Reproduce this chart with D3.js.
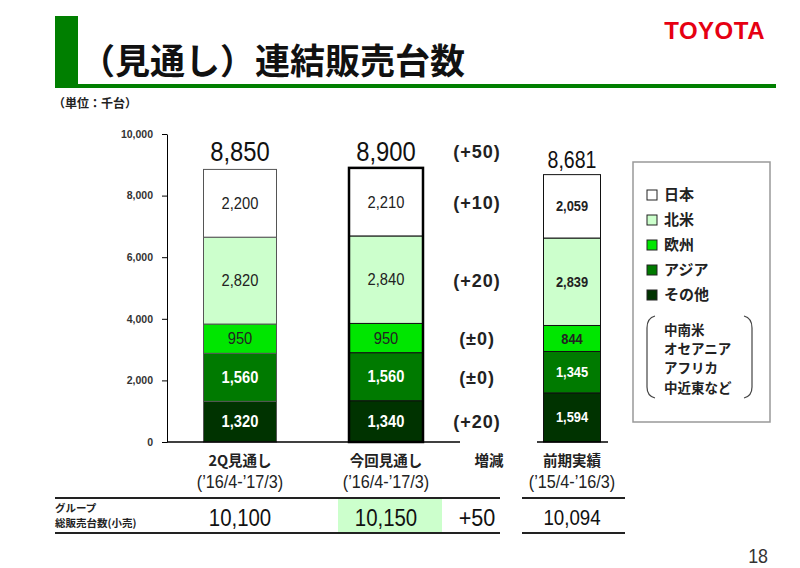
<!DOCTYPE html>
<html>
<head>
<meta charset="utf-8">
<script src="https://cdn.jsdelivr.net/npm/d3@7"></script>
<style>
  body { margin: 0; background: #fff; }
  svg { display: block; }
</style>
</head>
<body>
<div id="chart"></div>
<script>
// data
var categories = ["2Q見通し", "今回見通し", "前期実績"];
var periods = ["(’16/4-’17/3)", "(’16/4-’17/3)", "(’15/4-’16/3)"];
var regions = ["その他", "アジア", "欧州", "北米", "日本"];
var other = [1320, 1340, 1594];
var asia = [1560, 1560, 1345];
var europe = [950, 950, 844];
var northAmerica = [2820, 2840, 2839];
var japan = [2200, 2210, 2059];
var totals = [8850, 8900, 8681];
var changes = ["(+20)", "(±0)", "(±0)", "(+20)", "(+10)"];
var totalChange = "(+50)";
var groupSales = [10100, 10150, 10094];
var groupChange = "+50";
var yTicks = [0, 2000, 4000, 6000, 8000, 10000];
var otherNote = ["中南米", "オセアニア", "アフリカ", "中近東など"];

var W = 800, H = 568;
var jp = "'Noto Sans CJK JP', sans-serif";
var num = "'Liberation Sans', Arial, sans-serif";

var svg = d3.select("#chart").append("svg")
    .attr("width", W)
    .attr("height", H);

// squeezes a text horizontally, like the narrow font of the slide
function narrowAt(x, y, sx) {
  return "translate(" + x + "," + y + ") scale(" + sx + ",1)";
}

// title block
svg.append("rect").attr("x", 55).attr("y", 16).attr("width", 23).attr("height", 68).attr("fill", "#007f00");
svg.append("rect").attr("x", 55).attr("y", 84).attr("width", 721).attr("height", 4).attr("fill", "#007f00");
svg.append("text")
    .attr("x", 80).attr("y", 74)
    .style("font-family", jp).style("font-size", "35px").style("font-weight", "bold")
    .attr("fill", "#111")
    .text("（見通し）連結販売台数");
svg.append("text")
    .attr("x", 765).attr("y", 39).attr("text-anchor", "end")
    .style("font-family", num).style("font-size", "24px").style("font-weight", "bold")
    .style("letter-spacing", "0.5px")
    .attr("fill", "#e60012")
    .text("TOYOTA");
svg.append("text")
    .attr("x", 53).attr("y", 108)
    .style("font-family", jp).style("font-size", "12px").style("font-weight", "bold")
    .attr("fill", "#222")
    .text("（単位：千台）");

// scales
var y = d3.scaleLinear().domain([0, 10000]).range([442, 134]);
var xc = d3.scaleOrdinal().domain(categories).range([240, 386, 572]);
var bw = d3.scaleOrdinal().domain(categories).range([73, 74, 57]);
var color = d3.scaleOrdinal().domain(regions)
    .range(["#003300", "#007a00", "#00e600", "#ccffcc", "#ffffff"]);
var textColor = d3.scaleOrdinal().domain(regions)
    .range(["#ffffff", "#ffffff", "#222", "#222", "#222"]);

// y axis
var yAxis = svg.append("g")
    .attr("transform", "translate(167,0)")
    .call(d3.axisLeft(y).tickValues(yTicks).tickSizeInner(5).tickSizeOuter(0).tickFormat(d3.format(",")));
yAxis.select(".domain").attr("stroke", "#000");
yAxis.selectAll("text")
    .style("font-family", num).style("font-size", "10.5px").style("font-weight", "bold")
    .attr("fill", "#333").attr("dx", "-6px");

// stacked data
var table = categories.map(function(c, i) {
  return { cat: c, other: other[i], asia: asia[i], europe: europe[i], northAmerica: northAmerica[i], japan: japan[i] };
});
var keys = ["other", "asia", "europe", "northAmerica", "japan"];
var stack = d3.stack().keys(keys)(table);

var segs = [];
stack.forEach(function(layer, k) {
  layer.forEach(function(d, i) {
    segs.push({ region: regions[k], cat: categories[i], i: i, y0: d[0], y1: d[1], v: d[1] - d[0] });
  });
});

svg.selectAll("rect.seg").data(segs).enter().append("rect")
    .attr("class", "seg")
    .attr("x", function(d) { return xc(d.cat) - bw(d.cat) / 2; })
    .attr("width", function(d) { return bw(d.cat); })
    .attr("y", function(d) { return y(d.y1); })
    .attr("height", function(d) { return y(d.y0) - y(d.y1); })
    .attr("fill", function(d) { return color(d.region); })
    .attr("stroke", function(d) { return d.i == 0 ? "#555" : "#111"; })
    .attr("stroke-width", 1);

// thick outline on current forecast bar
svg.append("rect")
    .attr("x", xc(categories[1]) - bw(categories[1]) / 2)
    .attr("width", bw(categories[1]))
    .attr("y", y(totals[1]))
    .attr("height", y(0) - y(totals[1]))
    .attr("fill", "none").attr("stroke", "#000").attr("stroke-width", 2.5);

svg.selectAll("text.seg").data(segs).enter().append("text")
    .attr("class", "seg")
    .attr("transform", function(d) { return narrowAt(xc(d.cat), y((d.y0 + d.y1) / 2), 0.92); })
    .attr("dy", "0.36em")
    .attr("text-anchor", "middle")
    .style("font-family", num)
    .style("font-size", function(d) { return d.i == 2 ? "14px" : "16px"; })
    .style("font-weight", function(d) { return (d.i == 2 || d.region == "その他" || d.region == "アジア") ? "bold" : "normal"; })
    .attr("fill", function(d) { return textColor(d.region); })
    .text(function(d) { return d3.format(",")(d.v); });

// baselines
svg.append("line").attr("x1", 167).attr("x2", 460).attr("y1", y(0)).attr("y2", y(0)).attr("stroke", "#000").attr("stroke-width", 1.5);
svg.append("line").attr("x1", 537).attr("x2", 608).attr("y1", y(0)).attr("y2", y(0)).attr("stroke", "#000").attr("stroke-width", 1.5);

// totals
svg.selectAll("text.total").data(totals).enter().append("text")
    .attr("class", "total")
    .attr("transform", function(d, i) { return narrowAt(xc(categories[i]), i == 2 ? 168 : 161, 0.85); })
    .attr("text-anchor", "middle")
    .style("font-family", num)
    .style("font-size", function(d, i) { return i == 2 ? "23px" : "28px"; })
    .attr("fill", "#111")
    .text(function(d) { return d3.format(",")(d); });

// change column (placed at middle of current bar segments)
var deltaX = 477;
var cur = segs.filter(function(d) { return d.i == 1; });
svg.selectAll("text.chg").data(cur).enter().append("text")
    .attr("class", "chg")
    .attr("transform", function(d) { return narrowAt(deltaX, y((d.y0 + d.y1) / 2), 0.95); })
    .attr("dy", "0.36em")
    .attr("text-anchor", "middle")
    .style("font-family", num).style("font-size", "19px").style("font-weight", "bold")
    .style("letter-spacing", "1px")
    .attr("fill", "#222")
    .text(function(d, k) { return changes[k]; });
svg.append("text")
    .attr("transform", narrowAt(deltaX, 151, 0.95)).attr("dy", "0.36em")
    .attr("text-anchor", "middle")
    .style("font-family", num).style("font-size", "19px").style("font-weight", "bold")
    .style("letter-spacing", "1px")
    .attr("fill", "#222")
    .text(totalChange);

// category labels
svg.selectAll("text.cat").data(categories).enter().append("text")
    .attr("class", "cat")
    .attr("x", function(d) { return xc(d); })
    .attr("y", 466)
    .attr("text-anchor", "middle")
    .style("font-family", jp).style("font-size", "14.5px").style("font-weight", "bold")
    .attr("fill", "#222")
    .text(function(d) { return d; });
svg.append("text")
    .attr("x", 489).attr("y", 466).attr("text-anchor", "middle")
    .style("font-family", jp).style("font-size", "14.5px").style("font-weight", "bold")
    .attr("fill", "#222")
    .text("増減");
svg.selectAll("text.per").data(periods).enter().append("text")
    .attr("class", "per")
    .attr("transform", function(d, i) { return narrowAt(xc(categories[i]), 488, 0.9); })
    .attr("text-anchor", "middle")
    .style("font-family", num).style("font-size", "18px")
    .attr("fill", "#222")
    .text(function(d) { return d; });

// group sales row
svg.append("rect").attr("x", 338).attr("y", 499).attr("width", 104).attr("height", 33).attr("fill", "#ccffcc");
[[55, 500], [522, 625]].forEach(function(s) {
  svg.append("line").attr("x1", s[0]).attr("x2", s[1]).attr("y1", 498).attr("y2", 498).attr("stroke", "#222").attr("stroke-width", 2);
  svg.append("line").attr("x1", s[0]).attr("x2", s[1]).attr("y1", 533).attr("y2", 533).attr("stroke", "#222").attr("stroke-width", 2);
});
svg.append("text").attr("x", 55).attr("y", 512)
    .style("font-family", jp).style("font-size", "10.5px").style("font-weight", "bold").attr("fill", "#222")
    .text("グループ");
svg.append("text").attr("x", 55).attr("y", 527)
    .style("font-family", jp).style("font-size", "10.5px").style("font-weight", "bold").attr("fill", "#222")
    .text("総販売台数(小売)");
svg.selectAll("text.grp").data(groupSales).enter().append("text")
    .attr("class", "grp")
    .attr("transform", function(d, i) { return narrowAt(xc(categories[i]), 517, 0.85); })
    .attr("dy", "0.36em")
    .attr("text-anchor", "middle")
    .style("font-family", num).style("font-size", function(d, i) { return i == 2 ? "22px" : "24px"; })
    .attr("fill", "#111")
    .text(function(d) { return d3.format(",")(d); });
svg.append("text")
    .attr("transform", narrowAt(deltaX, 517, 0.9)).attr("dy", "0.36em").attr("text-anchor", "middle")
    .style("font-family", num).style("font-size", "24px").attr("fill", "#111")
    .text(groupChange);

// legend
svg.append("rect").attr("x", 633).attr("y", 162).attr("width", 137).attr("height", 260)
    .attr("fill", "#fff").attr("stroke", "#999").attr("stroke-width", 1.5);
var legendOrder = regions.slice().reverse();
var lg = svg.selectAll("g.lg").data(legendOrder).enter().append("g")
    .attr("class", "lg")
    .attr("transform", function(d, k) { return "translate(647," + (195 + k * 25) + ")"; });
lg.append("rect").attr("x", 0).attr("y", -5).attr("width", 10).attr("height", 10)
    .attr("fill", function(d) { return color(d); }).attr("stroke", "#222").attr("stroke-width", 1);
lg.append("text").attr("x", 17).attr("y", 0).attr("dy", "0.36em")
    .style("font-family", jp).style("font-size", "15px").style("font-weight", "bold").attr("fill", "#222")
    .text(function(d) { return d; });

// note in brackets
svg.append("path").attr("d", "M655,316 Q647,318 647,328 L647,387 Q647,396 655,398")
    .attr("fill", "none").attr("stroke", "#444").attr("stroke-width", 1.2);
svg.append("path").attr("d", "M744,316 Q752,318 752,328 L752,387 Q752,396 744,398")
    .attr("fill", "none").attr("stroke", "#444").attr("stroke-width", 1.2);
svg.selectAll("text.note").data(otherNote).enter().append("text")
    .attr("class", "note")
    .attr("x", 664)
    .attr("y", function(d, k) { return 330 + k * 19.3; })
    .attr("dy", "0.36em")
    .style("font-family", jp).style("font-size", "13.5px").style("font-weight", "bold").attr("fill", "#222")
    .text(function(d) { return d; });

// page number
svg.append("text").attr("transform", narrowAt(768, 563, 0.85)).attr("text-anchor", "end")
    .style("font-family", num).style("font-size", "21px").attr("fill", "#333")
    .text("18");
</script>
</body>
</html>
